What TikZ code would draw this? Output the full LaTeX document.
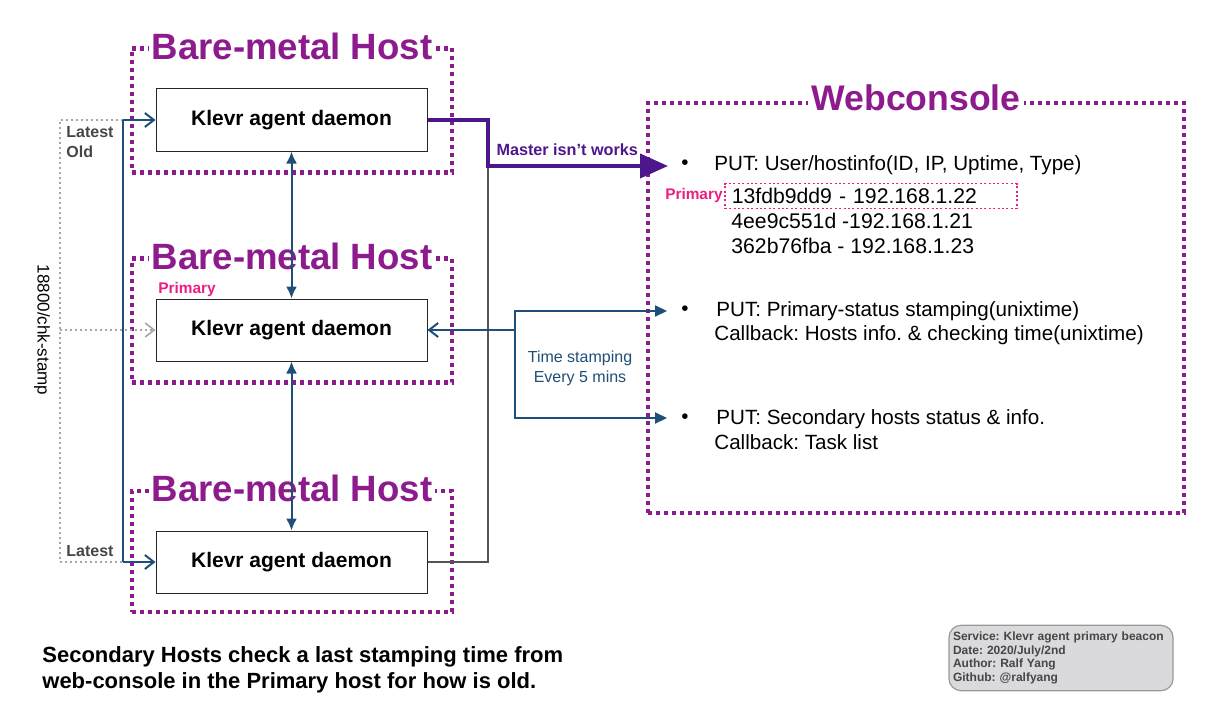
\documentclass[tikz,border=0pt]{standalone}
\usepackage{fontspec}
\setmainfont{Liberation Sans}
\usetikzlibrary{arrows.meta}
\frenchspacing
\definecolor{hostpurple}{RGB}{142,27,142}
\definecolor{masterpurple}{RGB}{78,22,140}
\definecolor{stampblue}{RGB}{31,78,121}
\definecolor{primpink}{RGB}{236,30,130}
\definecolor{notegray}{RGB}{218,218,221}
\definecolor{inktext}{RGB}{70,70,70}
\tikzset{
  >=Latex,
  host/.style = {draw=hostpurple, line width=2.2pt, dash pattern=on 2pt off 2pt,
                 minimum width=160pt, minimum height=#1},
  host/.default = 62pt,
  hosttitle/.style = {fill=white, text=hostpurple, inner sep=1.5pt,
                      font=\bfseries\fontsize{18.3}{20}\selectfont},
  daemon/.style = {draw=black!85, line width=0.5pt, minimum width=135.5pt,
                   minimum height=31pt, font=\bfseries\fontsize{10.5}{12}\selectfont},
  wired/.style = {draw=black!67, line width=1pt},
  master/.style = {draw=masterpurple, line width=2pt,
                   -{Triangle[length=14pt,width=12pt]}},
  stamp/.style = {draw=stampblue, line width=1pt},
  openhead/.style = {-{Straight Barb[length=4.5pt,width=7pt]}},
  chk/.style = {draw=black!35, line width=0.8pt, dash pattern=on 1pt off 1.5pt},
  put/.style = {anchor=west, inner sep=0pt, font=\fontsize{10.3}{12}\selectfont},
  hashline/.style = {anchor=west, inner sep=0pt, font=\fontsize{10.6}{12}\selectfont},
  tag/.style = {text=primpink, inner sep=0pt, font=\bfseries\fontsize{7.7}{9}\selectfont},
  side/.style = {anchor=west, inner sep=0pt, text=inktext, align=left,
                 font=\bfseries\fontsize{8}{10}\selectfont},
}
\begin{document}
\begin{tikzpicture}[x=0.5pt,y=-0.5pt]
\useasboundingbox (0,0) rectangle (1209,722);

% hosts
\node[host] (h1) at (292,110.5) {};
\node[host] (h2) at (292,320.5) {};
\node[host=60.5pt] (h3) at (292,551.5) {};
\node[hosttitle] (t1) at (h1.north) {Bare-metal Host};
\node[hosttitle] (t2) at (h2.north) {Bare-metal Host};
\node[hosttitle] (t3) at (h3.north) {Bare-metal Host};
\node[tag, anchor=west] (p2) at (158,290) {Primary};

\node[daemon] (d1) at (291.5,120) {Klevr agent daemon};
\node[daemon] (d2) at (291.5,330) {Klevr agent daemon};
\node[daemon] (d3) at (291.5,562) {Klevr agent daemon};

% webconsole
\node[host, minimum width=268pt, minimum height=205pt] (web) at (916,308) {};
\node[hosttitle, font=\bfseries\fontsize{17.8}{20}\selectfont] (wt) at ([yshift=1.5pt]web.north) {Webconsole};

\node[put] (b1) at (681,165) {\textbullet};
\node[put] (u1) at (714,165) {PUT: User/hostinfo(ID, IP, Uptime, Type)};
\node[hashline, draw=primpink, line width=0.8pt, dash pattern=on 1pt off 1.2pt,
      text width=139pt, align=left, inner xsep=3.5pt, minimum height=12.5pt] (k1) at (724,196) {13fdb9dd9 - 192.168.1.22};
\node[tag, anchor=east] (pk) at (723,196) {Primary};
\node[hashline] (k2) at (731,221) {4ee9c551d -192.168.1.21};
\node[hashline] (k3) at (731,246) {362b76fba - 192.168.1.23};

\node[put] (b2) at (681,311) {\textbullet};
\node[put] (u2) at (716,311) {PUT: Primary-status stamping(unixtime)};
\node[put] (c2) at (714,335) {Callback: Hosts info. \& checking time(unixtime)};
\node[put] (b3) at (681,419) {\textbullet};
\node[put] (u3) at (716,419) {PUT: Secondary hosts status \& info.};
\node[put] (c3) at (714,442) {Callback: Task list};

% wiring
\coordinate (m1) at (488,120);
\coordinate (mt) at (668,166);
\draw[wired] (d1.east) -- (m1) |- (d3.east);
\draw[master] (d1.east) -- (m1) |- node[pos=0.72, above=1pt, text=masterpurple,
      font=\bfseries\fontsize{8.1}{10}\selectfont] {Master isn't works} (mt);

\coordinate (lt) at (123,120);
\coordinate (lb) at (123,562);
\coordinate (gt) at (60,120);
\coordinate (gb) at (60,562);
\coordinate (gm) at (60,330);
\draw[chk] (lt) -- (gt) -- (gb) -- (lb);
\draw[chk, -{Straight Barb[length=4.5pt,width=7pt]}] (gm) -- (d2.west);
\draw[stamp] (lt) -- (lb);
\draw[stamp, openhead] (lt) -- (d1.west);
\draw[stamp, openhead] (lb) -- (d3.west);
\node[rotate=-90, inner sep=0pt, font=\fontsize{8.5}{10}\selectfont] (port) at (42,330) {18800/chk-stamp};
\node[side] (l1) at (66,142) {Latest\\Old};
\node[side] (l3) at (66,551) {Latest};

\draw[stamp, {Latex[length=6pt,width=5.5pt]}-{Latex[length=6pt,width=5.5pt]}] (d1.south) -- (d2.north);
\draw[stamp, {Latex[length=6pt,width=5.5pt]}-{Latex[length=6pt,width=5.5pt]}] (d2.south) -- (d3.north);

\coordinate (ts) at (515,330);
\coordinate (w1) at (667,311);
\coordinate (w2) at (667,418);
\draw[stamp, {Triangle[length=6pt,width=5.5pt]}-{Triangle[length=6pt,width=5.5pt]}] (w1) -| (ts) |- (w2);
\draw[stamp, openhead] (ts) -- (d2.east);
\node[text=stampblue, align=center, font=\fontsize{8}{10}\selectfont] (tsl) at (580,368) {Time stamping\\Every 5 mins};

% notes
\node[anchor=west, inner sep=0pt, align=left, font=\bfseries\fontsize{11}{13}\selectfont] (note) at (42,670)
  {Secondary Hosts check a last stamping time from\\web-console in the Primary host for how is old.};
\node[draw=black!40, fill=notegray, rounded corners=6pt, line width=0.6pt,
      minimum width=111pt, minimum height=30pt, text width=108pt, align=left,
      inner xsep=2pt, text=inktext, font=\bfseries\fontsize{6}{6.8}\selectfont] (info) at (1061,658)
  {Service: Klevr agent primary beacon\\Date: 2020/July/2nd\\Author: Ralf Yang\\Github: @ralfyang};
\end{tikzpicture}
\end{document}
